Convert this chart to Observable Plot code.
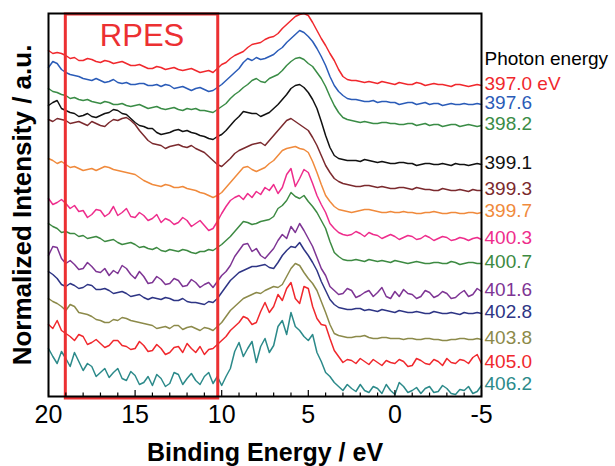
<!DOCTYPE html>
<html>
<head>
<meta charset="utf-8">
<script src="https://cdn.jsdelivr.net/npm/d3@7"></script>
<script src="https://cdn.jsdelivr.net/npm/@observablehq/plot@0.6"></script>
<style>
  html, body { margin: 0; padding: 0; background: #fff; }
  #chart { width: 615px; height: 466px; }
</style>
</head>
<body>
<div id="chart"></div>
<script>
// Binding energy grid (eV)
const energies = [20,19.75,19.5,19.25,19,18.75,18.5,18.25,18,17.75,17.5,17.25,17,16.75,16.5,16.25,16,15.75,15.5,15.25,15,14.75,14.5,14.25,14,13.75,13.5,13.25,13,12.75,12.5,12.25,12,11.75,11.5,11.25,11,10.75,10.5,10.25,
  10,9.75,9.5,9.25,9,8.75,8.5,8.25,8,7.75,7.5,7.25,7,6.75,6.5,6.25,6,5.75,5.5,5.25,5,4.75,4.5,4.25,4,3.75,3.5,3.25,3,2.75,2.5,2.25,2,1.75,1.5,1.25,1,0.75,0.5,0.25,0,-0.25,-0.5,-0.75,-1,-1.25,-1.5,-1.75,-2,-2.25,-2.5,-2.75,-3,-3.25,-3.5,-3.75,-4,-4.25,-4.5,-4.75,-5];

// Photon energy labels
const photonLabels = ["397.0 eV","397.6","398.2","399.1","399.3","399.7","400.3","400.7","401.6","402.8","403.8","405.0","406.2"];

// Series colours
const seriesColors = ["#f0282d","#2b5cb8","#3a8c46","#111111","#7b2a2e","#f08a3c","#ee2d8c","#3d8a42","#7e3594","#2e3585","#8c8a4a","#f0282d","#2c8a8a"];

// Stacked normalized intensities (a.u.), one array per photon energy
const s3970 = [346,343,344,343,341,338,339,336,336,338,337,335,334,336,335,333,334,335,333,331,331,332,330,328,328,330,329,327,328,329,327,326,327,328,326,324,325,326,324,328,
  332,334,338,341,343,345,349,352,353,354,357,359,360,363,368,372,376,380,382,383,381,374,366,358,351,343,336,327,320,317,316,316,315,314,315,314,313,315,314,313,312,314,313,312,312,314,313,311,312,313,312,312,311,310,312,312,311,310,311,312,311];
const s3976 = [329,335,333,327,324,322,321,320,318,317,316,318,316,314,315,317,314,313,314,312,312,313,313,311,311,312,310,312,311,308,309,310,308,306,308,309,307,305,306,309,
  312,316,320,324,328,334,338,336,339,337,338,340,342,346,349,354,358,362,366,364,360,355,348,340,331,320,311,305,301,298,297,297,296,295,295,296,294,295,295,294,294,292,293,294,294,292,293,294,292,293,293,291,292,293,292,292,293,292,292,293,292];
const s3982 = [308,305,304,302,301,298,299,297,296,297,295,294,293,295,294,292,292,293,291,290,291,292,290,288,289,290,288,287,288,289,287,286,288,287,288,286,286,285,284,287,
  290,293,298,302,305,309,312,316,318,315,314,318,320,322,326,331,335,338,339,337,333,330,324,318,310,300,291,284,279,277,276,275,274,275,274,273,273,274,274,273,273,272,272,273,273,271,272,273,271,272,272,270,271,272,272,270,271,272,271,270,271];
const s3991 = [291,294,296,288,286,284,283,280,281,283,280,279,281,283,284,287,286,283,282,278,274,271,270,268,268,264,262,263,264,266,267,265,266,264,263,261,260,258,257,260,
  262,266,271,276,280,285,284,283,283,280,282,284,288,292,297,302,308,311,312,309,304,297,288,275,261,249,241,238,237,236,236,236,235,237,236,235,234,235,234,233,233,234,234,233,233,231,232,233,233,232,232,233,232,231,233,232,232,231,232,233,232];
const s3993 = [277,275,278,277,276,273,274,275,273,271,275,273,271,270,274,277,276,278,279,276,272,266,261,256,253,252,251,248,250,251,252,250,249,251,248,246,244,240,236,232,
  230,234,238,243,246,248,250,252,253,254,251,256,261,266,271,276,278,275,272,269,266,259,251,241,231,224,218,215,213,212,211,210,210,211,211,210,209,210,209,208,208,209,209,208,207,209,208,207,207,206,206,208,207,206,206,207,206,205,207,206,206];
const s3997 = [238,236,233,235,232,229,230,228,226,227,228,226,228,230,229,227,226,225,224,223,222,219,216,214,212,211,210,212,211,209,209,210,208,207,206,204,203,201,199,201,
  204,209,214,219,224,229,230,227,225,227,229,233,236,241,246,248,249,250,248,247,244,235,224,212,201,195,190,187,186,185,184,185,186,187,187,186,185,184,184,185,184,184,185,184,184,183,183,184,184,185,184,183,183,184,184,183,183,184,184,183,184];
const s4003 = [198,192,194,197,193,188,191,185,186,179,182,187,186,180,183,190,181,184,188,180,179,184,181,176,178,182,174,178,176,172,174,179,176,170,173,176,171,166,168,175,
  183,190,196,199,201,197,203,199,205,202,209,206,212,203,209,222,228,210,218,227,224,213,201,192,184,173,168,164,162,161,162,165,163,160,164,162,161,158,160,162,160,157,159,161,160,157,158,161,159,156,158,160,159,156,157,159,158,156,158,159,157];
const s4007 = [173,170,168,164,165,163,163,160,161,158,159,160,158,155,156,157,154,152,153,154,152,149,150,148,147,149,146,145,147,146,145,147,146,144,143,145,145,147,146,149,
  152,156,160,165,170,175,174,172,173,175,176,177,180,188,191,196,204,200,198,201,195,190,184,176,168,155,144,140,137,136,136,137,136,135,137,136,135,136,135,134,136,135,134,133,134,135,134,133,133,134,134,133,133,135,134,132,133,134,134,133,133];
const s4016 = [141,150,149,138,133,136,132,127,128,134,130,125,124,128,121,126,123,131,128,122,118,125,120,113,114,120,117,112,113,118,116,110,111,117,114,109,112,114,109,115,
  121,125,131,140,146,152,153,145,148,141,138,143,148,156,162,158,170,164,173,166,158,150,139,128,121,110,106,102,103,108,106,99,101,104,106,100,104,109,100,98,105,100,107,103,102,98,100,106,104,99,101,105,103,98,99,103,106,100,102,108,105];
const s4028 = [125,122,118,112,110,113,111,108,109,112,111,107,107,108,106,103,104,105,103,100,101,102,99,97,99,98,97,99,98,96,96,98,95,94,94,93,92,95,94,98,
  104,110,116,120,124,126,128,130,130,131,132,129,128,134,141,146,150,149,154,147,141,134,126,115,106,97,92,89,88,87,87,88,88,86,87,86,85,87,86,85,84,86,85,84,84,85,84,83,83,85,84,83,83,84,83,82,84,83,83,84,83];
const s4038 = [98,95,93,90,86,92,90,84,83,82,80,77,76,74,74,77,76,79,78,76,75,74,73,72,71,68,69,70,68,71,71,67,69,70,68,66,69,68,66,70,
  74,80,86,90,94,98,100,102,104,103,106,108,110,109,112,120,128,133,131,124,118,113,106,95,84,72,63,61,60,59,59,60,60,61,59,58,58,59,59,58,58,58,57,58,58,57,57,58,58,57,57,56,56,57,57,58,58,57,57,58,57];
const s4050 = [72,68,76,66,63,60,56,62,60,52,54,57,53,49,51,56,56,51,50,47,48,55,51,45,46,52,48,42,44,49,50,44,53,48,44,50,42,47,48,52,
  56,60,66,70,74,80,78,72,74,85,94,84,90,102,96,108,114,98,93,110,108,90,78,72,71,58,46,40,34,37,36,33,38,35,32,37,34,31,36,34,33,37,35,30,31,38,36,33,32,37,35,31,38,34,33,37,36,33,39,42,33];
const s4062 = [48,40,33,45,38,30,44,35,26,33,30,20,24,28,19,24,28,18,16,25,21,12,14,20,11,22,18,10,13,24,22,12,18,23,16,12,20,24,13,20,
  11,20,28,45,54,40,48,55,34,50,58,44,51,70,76,62,84,70,66,60,56,62,44,35,24,20,14,10,6,12,8,5,12,6,4,10,8,3,12,6,2,14,10,4,6,9,3,8,10,4,5,11,8,3,2,7,6,10,3,5,11];

const seriesList = [s3970,s3976,s3982,s3991,s3993,s3997,s4003,s4007,s4016,s4028,s4038,s4050,s4062];
seriesList.forEach((s, i) => { if (s.length !== energies.length) throw new Error("series " + i + " has length " + s.length); });

// X-axis ticks
const majorTicks = [20,15,10,5,0,-5];
const minorTicks = [19,18,17,16,14,13,12,11,9,8,7,6,4,3,2,1,-1,-2,-3,-4];

// RPES window (eV)
const rpesWindow = [{x1: 19.0, x2: 10.2, label: "RPES"}];

const font = "'Liberation Sans', Arial, Helvetica, sans-serif";

const lineMarks = seriesList.map((vals, i) =>
  Plot.line(energies.map((e, j) => ({E: e, I: vals[j]})), {
    x: "E", y: "I", stroke: seriesColors[i], strokeWidth: 1.5
  })
);

const endLabels = seriesList.map((vals, i) => ({
  E: energies[energies.length - 1],
  I: vals[vals.length - 1],
  label: photonLabels[i],
  color: seriesColors[i]
}));

const chart = Plot.plot({
  width: 615,
  height: 466,
  marginLeft: 48,
  marginRight: 134,
  marginTop: 13,
  marginBottom: 70,
  style: {fontFamily: font, background: "#fff", color: "#000", overflow: "visible"},
  x: {domain: [20, -5]},
  y: {domain: [0, 383]},
  marks: [
    ...lineMarks,
    // RPES box
    Plot.rect(rpesWindow, {x1: "x1", x2: "x2", y1: () => 0, y2: () => 383, fill: "none", stroke: "#ec3032", strokeWidth: 3, insetBottom: -2, insetTop: 1}),
    Plot.text(rpesWindow, {x: d => (d.x1 + d.x2) / 2, frameAnchor: "top", lineAnchor: "middle", dy: 23, text: "label", fill: "#ec3032", fontSize: 31}),
    // Frame and axes
    Plot.frame({stroke: "#000", strokeWidth: 2}),
    Plot.axisX(minorTicks, {tickSize: -3.5, text: null, strokeWidth: 1.2}),
    Plot.axisX(majorTicks, {tickSize: -6, tickPadding: 15, tickFormat: d => String(d), fontSize: 25, strokeWidth: 1.2, label: null}),
    Plot.axisY([], {label: null, tickSize: 0}),
    // Axis titles
    Plot.text(["Binding Energy / eV"], {frameAnchor: "bottom", lineAnchor: "middle", dy: 56, fontSize: 25, fontWeight: "bold", fill: "#000"}),
    Plot.text(["Normalized Intensity / a.u."], {frameAnchor: "left", textAnchor: "middle", lineAnchor: "middle", dx: -26, rotate: -90, fontSize: 26, fontWeight: "bold", fill: "#000"}),
    // Right-hand labels
    Plot.text(["Photon energy"], {frameAnchor: "top-right", textAnchor: "start", lineAnchor: "middle", dx: 3, dy: 45, fontSize: 19, fill: "#000"}),
    Plot.text(endLabels, {x: "E", y: "I", text: "label", fill: "color", textAnchor: "start", dx: 3, dy: -2, fontSize: 19})
  ]
});

document.getElementById("chart").appendChild(chart);
</script>
</body>
</html>
